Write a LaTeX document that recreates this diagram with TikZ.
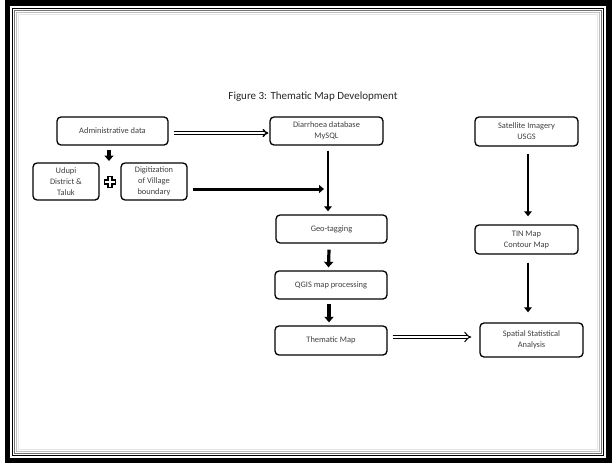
\documentclass[tikz,border=0pt]{standalone}
\usepackage{fontspec}
\setmainfont{Carlito}
\usetikzlibrary{arrows.meta}
\begin{document}
\begin{tikzpicture}[x=1pt,y=-1pt,
  box/.style={draw=black,line width=1.3pt,rounded corners=4pt,fill=white,
    align=center,font=\fontsize{8.4}{11}\selectfont,text=black!75,inner sep=1pt},
  thick arrow/.style={line width=3.2pt,-{Triangle[length=5.5pt,width=9pt]}},
  thin arrow/.style={line width=2.2pt,-{Triangle[length=5pt,width=7.5pt]}},
  dbl arrow/.style={double,line width=1.4pt,double distance=1.2pt,-{Implies}},
  wide dbl/.style={double,line width=1pt,double distance=2.6pt,-{Implies}}]
\useasboundingbox (0,0) rectangle (612,463);
% frame
\fill[black] (5,0) rectangle (612,463);
\fill[white] (10,6) rectangle (606,458);
\draw[black,line width=1.4pt] (12.5,8.5) rectangle (603.5,455.5);
\draw[black!55,line width=1.4pt] (14.5,10.5) rectangle (601.5,453.5);
\draw[black!25,line width=1.4pt] (16.5,12.5) rectangle (599.5,451.5);
\draw[black!10,line width=1.4pt] (18.5,14.5) rectangle (597.5,449.5);
% title
\node[font=\fontsize{11}{13}\selectfont,text=black!85] (title) at (313,97) {Figure 3: Thematic Map Development};
% boxes
\node[box,minimum width=111pt,minimum height=28pt] (admin) at (112.5,131) {Administrative data};
\node[box,minimum width=66pt,minimum height=37pt] (udupi) at (66,181.5) {Udupi\\District \&\\Taluk};
\node[box,minimum width=66pt,minimum height=37pt] (digit) at (154,181.5) {Digitization\\of Village\\boundary};
\node[box,minimum width=113pt,minimum height=28pt] (diarr) at (326.5,131) {Diarrhoea database\\MySQL};
\node[box,minimum width=111pt,minimum height=28pt] (geo) at (331.5,229) {Geo-tagging};
\node[box,minimum width=112pt,minimum height=28pt] (qgis) at (331,285) {QGIS map processing};
\node[box,minimum width=112pt,minimum height=29pt] (them) at (331,340.5) {Thematic Map};
\node[box,minimum width=103pt,minimum height=29pt] (sat) at (526.5,131.5) {Satellite Imagery\\USGS};
\node[box,minimum width=103pt,minimum height=29pt] (tin) at (526.5,239.5) {TIN Map\\Contour Map};
\node[box,minimum width=103pt,minimum height=34pt] (spat) at (531.5,340) {Spatial Statistical\\Analysis};
% plus sign
\draw[black,line width=1.4pt,fill=white] (108,176.5) -- (112,176.5) -- (112,180) -- (115.5,180) -- (115.5,184) -- (112,184) -- (112,187.5) -- (108,187.5) -- (108,184) -- (104.5,184) -- (104.5,180) -- (108,180) -- cycle;
% coordinates
\coordinate (plustop) at (109,161);
\coordinate (joint) at (324,189);
% connectors
\draw[thick arrow] (admin.south -| plustop) ++(0,4) -- (plustop);
\draw[dbl arrow] ([xshift=5pt,yshift=-2pt]admin.east) -- ([xshift=-1pt,yshift=-2pt]diarr.west);
\draw[line width=3pt,-{Triangle[length=5pt,width=8pt]}] (digit.east |- joint) ++(5,0) -- (joint);
\draw[thin arrow] ([xshift=1.5pt,yshift=-5pt]diarr.south) -- ([xshift=-3.5pt,yshift=3pt]geo.north);
\draw[thick arrow] ([xshift=-2.5pt,yshift=-6pt]geo.south) -- ([xshift=-2.5pt,yshift=3pt]qgis.north);
\draw[thick arrow] ([xshift=-2pt,yshift=-4pt]qgis.south) -- ([xshift=-2pt,yshift=3pt]them.north);
\draw[wide dbl] ([xshift=5pt,yshift=3.5pt]them.east) -- ([xshift=-8pt,yshift=3pt]spat.west);
\draw[thin arrow] ([xshift=1.5pt,yshift=-7pt]sat.south) -- ([xshift=1.5pt,yshift=8pt]tin.north);
\draw[thin arrow] ([xshift=1.5pt,yshift=-8pt]tin.south) -- ([xshift=-3.5pt,yshift=10pt]spat.north);
\end{tikzpicture}
\end{document}
